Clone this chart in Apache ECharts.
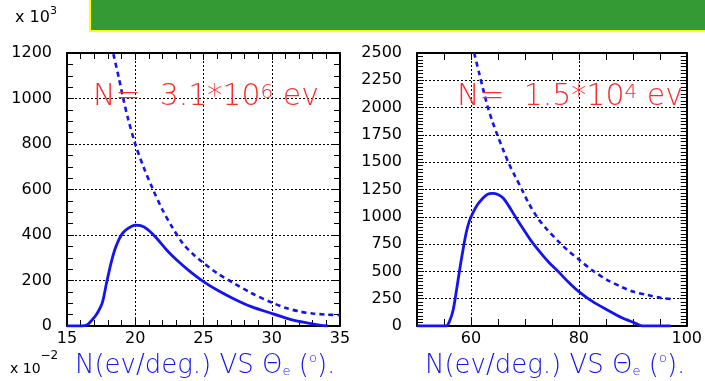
<!DOCTYPE html>
<html>
<head>
<meta charset="utf-8">
<script src="https://cdn.jsdelivr.net/npm/echarts@6/dist/echarts.min.js"></script>
<style>
  html, body { margin: 0; padding: 0; background: #fff; }
  #chart { width: 705px; height: 381px; }
</style>
</head>
<body>
<div id="chart"></div>
<script>
// Electron angular distributions N(ev/deg.) versus theta_e (degrees)

// Left panel: theta 15..35 deg, counts in units of 10^3
const leftSolidTheta = [15, 16.1, 16.5, 17.0, 17.3, 17.6, 17.9, 18.2, 18.5, 18.8, 19.1, 19.5, 20.0, 20.4, 20.9, 21.5, 22.3, 23.0, 24.0, 25.0, 26.0, 27.2, 28.5, 30.0, 31.0, 32.0, 33.0, 33.6, 34.1];
const leftSolidN     = [0, 0, 6, 38, 65, 105, 190, 270, 335, 380, 410, 430, 443, 441, 425, 390, 334, 292, 240, 195, 158, 120, 85, 55, 36, 20, 9, 3, 0];
const leftDashTheta  = [18.4, 18.8, 19.1, 19.5, 20.0, 20.6, 21.3, 22.0, 22.7, 23.5, 24.3, 25.0, 26.0, 27.2, 28.5, 30.0, 31.0, 32.1, 33.0, 34.0, 35.0];
const leftDashN      = [1195, 1090, 1005, 905, 800, 700, 600, 510, 435, 362, 312, 277, 232, 189, 145, 103, 80, 63, 55, 50, 48];

// Right panel: theta 50..100 deg
const rightSolidTheta = [50, 55.4, 56.0, 56.7, 57.3, 57.9, 58.5, 59.1, 59.7, 60.3, 61.2, 62.2, 63.0, 64.0, 65.0, 66.0, 67.0, 68.0, 69.0, 70.0, 71.3, 73.0, 74.5, 76.2, 78.0, 80.0, 82.5, 85.3, 88.0, 90.2, 91.8, 97.0];
const rightSolidN     = [0, 0, 40, 147, 320, 513, 690, 849, 960, 1030, 1110, 1170, 1205, 1215, 1205, 1170, 1100, 1020, 940, 865, 770, 665, 580, 498, 405, 314, 225, 147, 75, 31, 0, 0];
const rightDashTheta  = [60.6, 61.5, 62.3, 63.1, 64.0, 64.9, 66.0, 67.0, 68.2, 69.5, 70.7, 72.5, 74.0, 76.2, 78.0, 80.0, 82.5, 85.3, 88.0, 90.0, 92.7, 95.0, 97.0];
const rightDashN      = [2500, 2320, 2160, 2008, 1870, 1749, 1610, 1490, 1370, 1245, 1124, 980, 890, 775, 690, 610, 510, 421, 355, 315, 284, 260, 247];

// Axis ranges and tick steps
const leftX  = { min: 15, max: 35, step: 5, minor: 5 };
const leftY  = { min: 0, max: 1200, step: 200, minor: 4 };
const rightX = { min: 50, max: 100, step: 5, labels: [60, 80, 100], grid: [60, 80] };
const rightY = { min: 0, max: 2500, step: 250, minor: 8 };

const FONT = '"DejaVu Sans", sans-serif';
const BLUE = '#1414f0';
const RED = '#ff2a2a';

function pairs(xs, ys) { return xs.map((x, i) => [x, ys[i]]); }

// One value axis; ticks point into the frame on every side
function axis(r, extra) {
  return Object.assign({
    type: 'value', min: r.min, max: r.max, interval: r.step,
    axisLine: { show: true, onZero: false, lineStyle: { color: '#000', width: 2 } },
    axisTick: { show: true, inside: true, length: 7, lineStyle: { color: '#000', width: 1 } },
    minorTick: { show: !!r.minor, splitNumber: r.minor || 5, length: 6, lineStyle: { color: '#000', width: 1 } },
    splitLine: { show: false },
    axisLabel: { show: false }
  }, extra);
}
function labels(extra) {
  return Object.assign({ show: true, color: '#000', fontFamily: FONT, fontSize: 16, formatter: (v) => String(v) }, extra);
}
const dottedGrid = { show: true, lineStyle: { color: '#000', width: 1, type: [2, 2] } };

// Right panel: ticks every 5 deg, grid lines only at 60 and 80
const rightSplitColors = (function () {
  const n = (rightX.grid[1] - rightX.grid[0]) / rightX.step;
  const arr = [];
  for (let i = 0; i < n; i++) arr.push('rgba(0,0,0,0)');
  arr[((rightX.grid[0] - rightX.min) / rightX.step) % n] = '#000';
  return arr;
})();

// Text runs made of segments with different sizes (superscripts, subscripts)
const measureCtx = document.createElement('canvas').getContext('2d');
function textRun(x, segs, color, weight) {
  const out = [];
  let cx = x;
  segs.forEach(s => {
    const font = `${weight} ${s.size}px ${FONT}`;
    measureCtx.font = font;
    out.push({
      type: 'text', x: cx, y: s.y, silent: true, z: 100,
      style: { text: s.t, font: font, fill: color, align: 'left', verticalAlign: 'middle' }
    });
    cx += measureCtx.measureText(s.t).width;
  });
  return out;
}

const graphics = [
  // header banner
  { type: 'rect', shape: { x: 90, y: -5, width: 625, height: 36 }, silent: true,
    style: { fill: '#349a34', stroke: '#ffff00', lineWidth: 2 } }
]
  .concat(textRun(15, [{ t: 'x 10', size: 16, y: 18 }, { t: '3', size: 11, y: 11 }], '#000', 'normal'))
  .concat(textRun(10, [{ t: 'x 10', size: 14, y: 369 }, { t: '\u22122', size: 12, y: 356 }], '#000', 'normal'))
  .concat(textRun(93, [{ t: 'N=  3.1*10', size: 30, y: 97.5 }, { t: '6', size: 20, y: 92.5 }, { t: ' ev', size: 30, y: 97.5 }], RED, 200))
  .concat(textRun(457, [{ t: 'N=  1.5*10', size: 30, y: 97.5 }, { t: '4', size: 20, y: 92.5 }, { t: ' ev', size: 30, y: 97.5 }], RED, 200));

const captionSegs = (y) => [
  { t: 'N(ev/deg.) VS \u0398', size: 26, y: y },
  { t: 'e', size: 13, y: y + 6 },
  { t: ' (', size: 26, y: y },
  { t: 'o', size: 13, y: y - 7 },
  { t: ').', size: 26, y: y }
];
graphics.push.apply(graphics, textRun(75, captionSegs(366), BLUE, 200));
graphics.push.apply(graphics, textRun(425, captionSegs(366), BLUE, 200));

const chart = echarts.init(document.getElementById('chart'));

const lineSeries = (name, xi, yi, data, dashed) => ({
  name, type: 'line', xAxisIndex: xi, yAxisIndex: yi, data,
  showSymbol: false, symbol: 'none', smooth: 0.3,
  lineStyle: { color: BLUE, width: dashed ? 2.6 : 2.8, type: dashed ? [5, 4] : 'solid' }
});

chart.setOption({
  animation: false,
  grid: [
    { left: 67, top: 53, width: 273, height: 273 },
    { left: 417, top: 53, width: 273, height: 273 }
  ],
  xAxis: [
    axis(leftX, { gridIndex: 0, position: 'bottom', splitLine: dottedGrid, axisLabel: labels({ margin: 5 }) }),
    axis(leftX, { gridIndex: 0, position: 'top' }),
    axis(rightX, { gridIndex: 1, position: 'bottom',
      splitLine: { show: true, lineStyle: { color: rightSplitColors, width: 1, type: [2, 2] } },
      axisLabel: labels({ margin: 5, customValues: rightX.labels }) }),
    axis(rightX, { gridIndex: 1, position: 'top' })
  ],
  yAxis: [
    axis(leftY, { gridIndex: 0, position: 'left', splitLine: dottedGrid, axisLabel: labels({ margin: 15 }) }),
    axis(leftY, { gridIndex: 0, position: 'right' }),
    axis(rightY, { gridIndex: 1, position: 'left', splitLine: dottedGrid, axisLabel: labels({ margin: 15 }) }),
    axis(rightY, { gridIndex: 1, position: 'right' })
  ],
  series: [
    lineSeries('left-solid', 0, 0, pairs(leftSolidTheta, leftSolidN), false),
    lineSeries('left-dashed', 0, 0, pairs(leftDashTheta, leftDashN), true),
    lineSeries('right-solid', 2, 2, pairs(rightSolidTheta, rightSolidN), false),
    lineSeries('right-dashed', 2, 2, pairs(rightDashTheta, rightDashN), true)
  ],
  graphic: graphics
});
</script>
</body>
</html>
